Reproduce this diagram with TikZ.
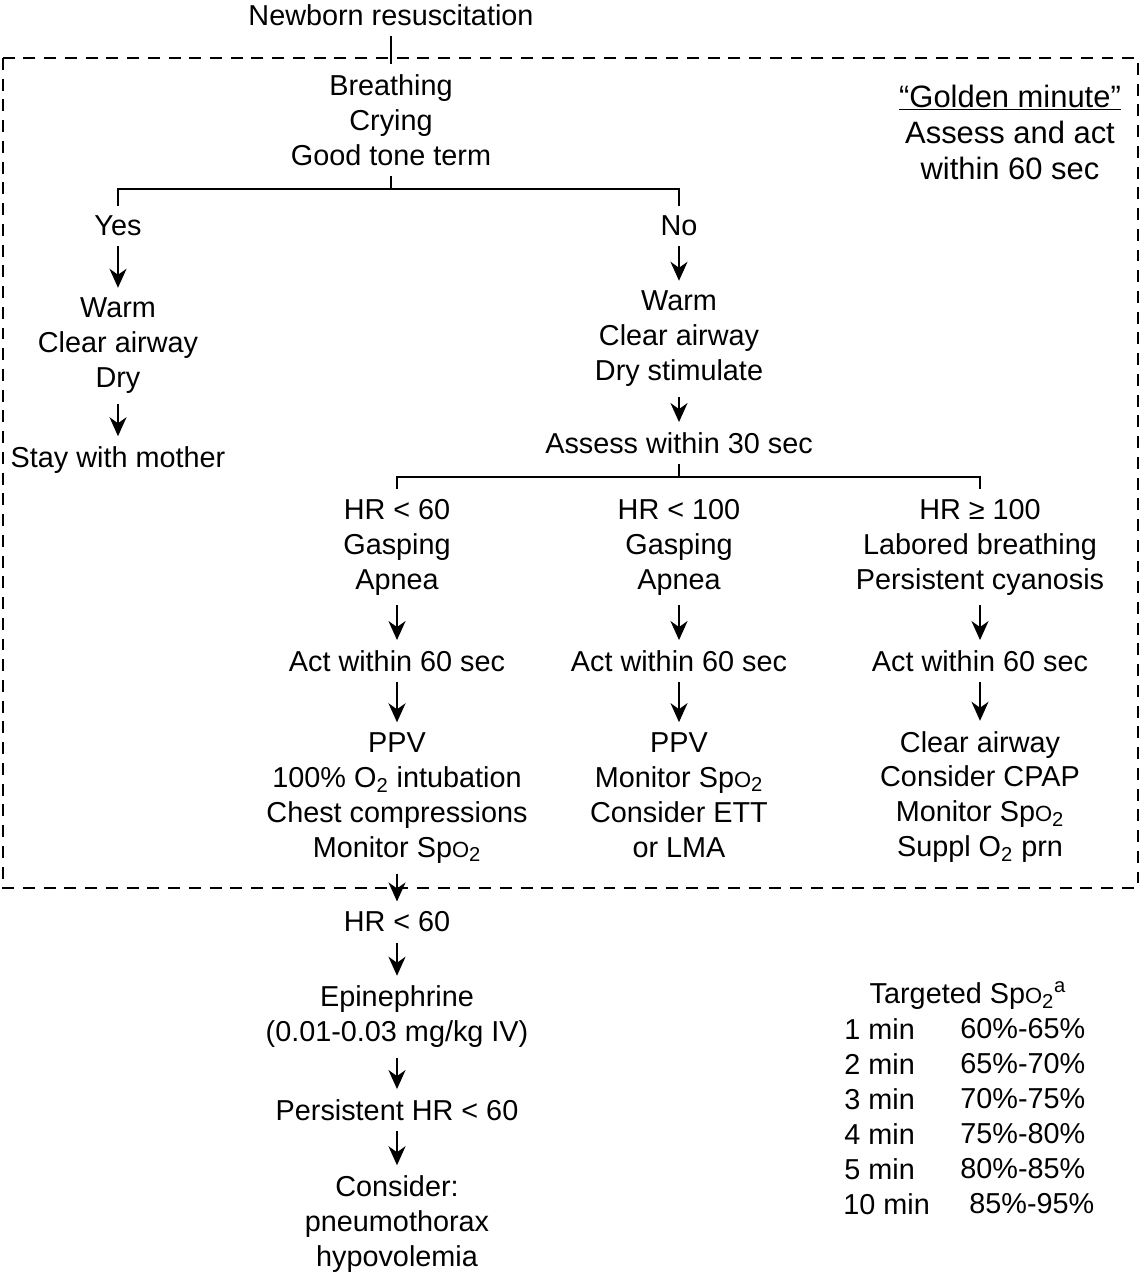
\documentclass[tikz,border=0pt]{standalone}
\usepackage{fontspec}
\setmainfont{Liberation Sans}
\usetikzlibrary{arrows.meta}
\newcommand{\spox}{Sp{\fontsize{12.5}{14}\selectfont O}\textsubscript{2}}
\newcommand{\otwo}{O\textsubscript{2}}
\tikzstyle{txt}=[align=center,inner sep=0.2cm]
\tikzstyle{tabtxt}=[inner sep=0pt]
\tikzstyle{flow}=[-{Stealth[length=0.38cm,width=0.34cm,inset=0.12cm]}, line width=1.2pt]
\tikzstyle{link}=[line width=1.1pt]
\tikzstyle{dashbox}=[line width=1.3pt, dash pattern=on 6.8pt off 5pt]

\begin{document}
\begin{tikzpicture}[x=0.02cm,y=-0.02cm,font=\fontsize{16.4}{19.9}\selectfont]
\useasboundingbox (0,0) rectangle (1144,1273);
\draw[dashbox] (3,58) rectangle (1138,888);
\node[txt] (title) at (391,15) {Newborn resuscitation};
\node[txt] (breath) at (391,120) {Breathing\\Crying\\Good tone term};
\node[txt,font=\fontsize{17.6}{20.5}\selectfont] (golden) at (1010,132) {\underline{“Golden minute”}\\Assess and act\\within 60 sec};
\node[txt] (yes) at (118,226) {Yes};
\node[txt] (no) at (679,226) {No};
\node[txt] (yeswarm) at (118,346) {Warm\\Clear airway\\Dry};
\node[txt] (mother) at (118,460) {Stay with mother};
\node[txt] (nowarm) at (679,339) {Warm\\Clear airway\\Dry stimulate};
\node[txt] (assess) at (679,443) {Assess within 30 sec};
\node[txt] (hrlow) at (397,547) {HR < 60\\Gasping\\Apnea};
\node[txt] (hrmid) at (679,547) {HR < 100\\Gasping\\Apnea};
\node[txt] (hrhigh) at (980,547) {HR ≥ 100\\Labored breathing\\Persistent cyanosis};
\node[txt] (actlow) at (397,661) {Act within 60 sec};
\node[txt] (actmid) at (679,661) {Act within 60 sec};
\node[txt] (acthigh) at (980,661) {Act within 60 sec};
\node[txt] (ppvlow) at (397,798) {PPV\\100\% \otwo{} intubation\\Chest compressions\\Monitor \spox};
\node[txt] (ppvmid) at (679,795) {PPV\\Monitor \spox\\Consider ETT\\or LMA};
\node[txt] (ppvhigh) at (980,797) {Clear airway\\Consider CPAP\\Monitor \spox\\Suppl \otwo{} prn};
\node[txt] (hrlate) at (397,922) {HR < 60};
\node[txt] (epi) at (397,1017) {Epinephrine\\(0.01-0.03 mg/kg IV)};
\node[txt] (persist) at (397,1110) {Persistent HR < 60};
\node[txt] (consider) at (397,1224) {Consider:\\pneumothorax\\hypovolemia};
\node[txt] (target) at (968,996) {Targeted \spox\textsuperscript{a}};
\node[tabtxt,anchor=west] (m1) at (844,1029) {1 min};
\node[tabtxt,anchor=west] (p1) at (960,1029) {60\%-65\%};
\node[tabtxt,anchor=west] (m2) at (844,1064) {2 min};
\node[tabtxt,anchor=west] (p2) at (960,1064) {65\%-70\%};
\node[tabtxt,anchor=west] (m3) at (844,1099) {3 min};
\node[tabtxt,anchor=west] (p3) at (960,1099) {70\%-75\%};
\node[tabtxt,anchor=west] (m4) at (844,1134) {4 min};
\node[tabtxt,anchor=west] (p4) at (960,1134) {75\%-80\%};
\node[tabtxt,anchor=west] (m5) at (844,1169) {5 min};
\node[tabtxt,anchor=west] (p5) at (960,1169) {80\%-85\%};
\node[tabtxt,anchor=west] (m10) at (843,1204) {10 min};
\node[tabtxt,anchor=west] (p10) at (969,1204) {85\%-95\%};
\coordinate (split1) at (391,189);
\coordinate (split2) at (679,477);
\draw[link] (title.south) -- (breath.north);
\draw[link] (breath.south) -- (split1);
\draw[link] (yes.north) |- (split1) -| (no.north);
\draw[flow] (yes) -- (yeswarm);
\draw[flow] (yeswarm) -- (mother);
\draw[flow] (no) -- (nowarm);
\draw[flow] (nowarm) -- (assess);
\draw[link] (assess.south) -- (split2);
\draw[link] (hrlow.north) |- (split2) -| (hrhigh.north);
\draw[flow] (hrlow) -- (actlow);
\draw[flow] (hrmid) -- (actmid);
\draw[flow] (hrhigh) -- (acthigh);
\draw[flow] (actlow) -- (ppvlow);
\draw[flow] (actmid) -- (ppvmid);
\draw[flow] (acthigh) -- (ppvhigh);
\draw[flow] (ppvlow) -- (hrlate);
\draw[flow] (hrlate) -- (epi);
\draw[flow] (epi) -- (persist);
\draw[flow] (persist) -- (consider);
\end{tikzpicture}
\end{document}
